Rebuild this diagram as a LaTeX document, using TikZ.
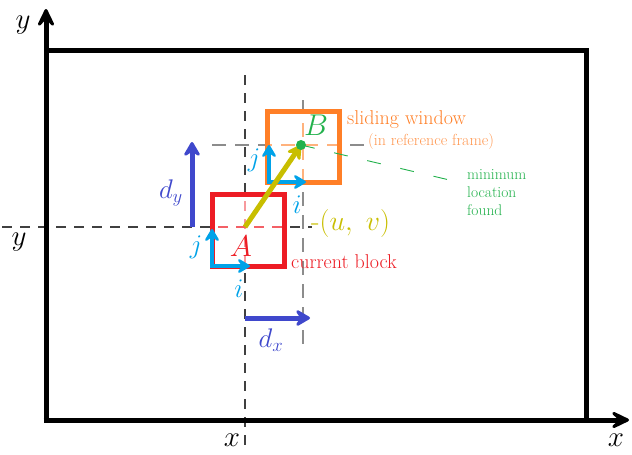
\documentclass[tikz,border=0pt]{standalone}
\usetikzlibrary{arrows.meta}
\definecolor{cred}{RGB}{237,28,36}
\definecolor{corange}{RGB}{255,127,39}
\definecolor{ccyan}{RGB}{0,162,232}
\definecolor{cblue}{RGB}{63,72,204}
\definecolor{colive}{RGB}{200,190,0}
\definecolor{cgreen}{RGB}{34,177,76}
\newcommand\mlbl[2][1.3]{\scalebox{#1}{$#2$}}
\begin{document}
\begin{tikzpicture}[x=1pt,y=-1pt,
  frameline/.style={line width=5pt},
  axisarrow/.style={line width=5pt,-{Stealth[length=26pt,width=25pt,inset=14pt,round]}},
  blackdash/.style={line width=1.1pt,black!75,dash pattern=on 10pt off 8pt},
  graydash/.style={line width=1.1pt,black!45,dash pattern=on 14pt off 9pt},
  squarebox/.style={line width=5pt},
  cyanarrow/.style={line width=4pt,ccyan,-{Stealth[length=16pt,width=19pt,inset=7pt,round]}},
  bluearrow/.style={line width=5pt,cblue,-{Stealth[length=18pt,width=21pt,inset=7pt,round]}},
  olivearrow/.style={line width=5pt,colive,-{Stealth[length=18pt,width=20pt,inset=7pt,round]}},
  mathlbl/.style={inner sep=0pt,font=\fontsize{20.74}{24}\selectfont},
  txtlbl/.style={inner sep=0pt,anchor=west,font=\fontsize{20}{24}\selectfont}]
\useasboundingbox (0,0) rectangle (632,455);
% key points
\coordinate (O) at (46,420);
\coordinate (Ytip) at (46,9);
\coordinate (Xtip) at (629,420);
\coordinate (TL) at (46,50);
\coordinate (TR) at (586,50);
\coordinate (BR) at (586,420);
\coordinate (Apt) at (245,227);
\coordinate (Bpt) at (301,145);
% guide lines
\draw[blackdash] (245,75) -- (245,447);
\draw[blackdash] (2,227) -- (312,227);
\draw[graydash] (303,100) -- (303,353);
\draw[graydash] (212,145) -- (366,145);
\begin{scope}
  \clip (212,194) rectangle (284,266);
  \draw[blackdash,cred!45] (245,75) -- (245,447);
  \draw[blackdash,cred!70] (2,227) -- (312,227);
\end{scope}
\begin{scope}
  \clip (267,111) rectangle (339,182);
  \draw[graydash,corange!60] (303,100) -- (303,353);
  \draw[graydash,corange!60] (212,145) -- (366,145);
\end{scope}
% frame and axes
\draw[frameline,line join=miter] (TL) -- (TR) -- (BR);
\draw[axisarrow] ([yshift=2.5pt]O) -- (Ytip);
\draw[axisarrow] ([xshift=-2.5pt]O) -- (Xtip);
\node[mathlbl] (ly1) at (23,25) {\mlbl[1.4]{y}};
\node[mathlbl] (ly2) at (19,242) {\mlbl[1.4]{y}};
\node[mathlbl] (lx1) at (232,440) {\mlbl[1.4]{x}};
\node[mathlbl] (lx2) at (616,440) {\mlbl[1.4]{x}};
% squares
\draw[squarebox,cred] (212,194) rectangle (284,266);
\draw[squarebox,corange] (267,111) rectangle (339,182);
% local axes
\coordinate (ca) at (212,266);
\draw[cyanarrow] ([yshift=2pt]ca) -- (212,229);
\draw[cyanarrow] ([xshift=-2pt]ca) -- (250,266);
\coordinate (cb) at (269,182);
\draw[cyanarrow] ([yshift=2pt]cb) -- (269,145);
\draw[cyanarrow] ([xshift=-2pt]cb) -- (306,182);
\node[mathlbl,text=ccyan] (jA) at (196,247) {\mlbl[1.3]{j}};
\node[mathlbl,text=ccyan] (iA) at (239,289) {\mlbl[1.3]{i}};
\node[mathlbl,text=ccyan] (jB) at (254,160) {\mlbl[1.3]{j}};
\node[mathlbl,text=ccyan] (iB) at (297,205) {\mlbl[1.3]{i}};
% displacement
\draw[olivearrow] (Apt) -- (Bpt);
\fill[cgreen] (Bpt) circle (5pt);
\node[mathlbl,text=cred] (lA) at (241,246) {\mlbl[1.45]{A}};
\node[mathlbl,text=cgreen] (lB) at (316,125) {\mlbl[1.45]{B}};
% d arrows
\draw[bluearrow] (192,227) -- (192,142);
\draw[bluearrow] (245,318) -- (310,318);
\node[mathlbl,text=cblue] (ldy) at (171,193) {\mlbl[1.3]{d_y}};
\node[mathlbl,text=cblue] (ldx) at (271,340) {\mlbl[1.3]{d_x}};
% texts
\node[inner sep=0pt,anchor=west,text=colive,font=\fontsize{20.74}{24}\selectfont] (uv) at (311,223) {\scalebox{1.35}{-$(u,\ v)$}};
\node[txtlbl,text=cred] (cur) at (291,262) {current block};
\node[txtlbl,text=corange] (sw) at (347,120) {sliding window};
\node[inner sep=0pt,anchor=west,text=corange!80,font=\fontsize{16}{19}\selectfont] (ref) at (368,142) {(in reference frame)};
\coordinate (gend) at (458,182);
\draw[cgreen,line width=0.9pt,dash pattern=on 14pt off 20pt] (Bpt) -- (gend);
\node[inner sep=0pt,anchor=north west,text=cgreen,align=left,font=\fontsize{15.5}{18}\selectfont] (minl) at (467,169) {minimum\\location\\found};
\end{tikzpicture}
\end{document}
